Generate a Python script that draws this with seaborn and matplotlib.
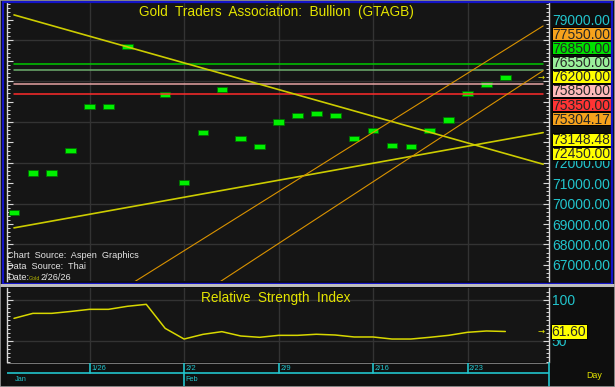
import numpy as np
import pandas as pd
import matplotlib
matplotlib.use("Agg")
import matplotlib.pyplot as plt
import seaborn as sns
from matplotlib.patches import Rectangle
from matplotlib.ticker import MultipleLocator, FixedLocator, FuncFormatter

# ---------------- data ----------------
sessions = pd.bdate_range("2026-01-20", "2026-02-27")
price = [69550, 71500, 71500, 72600, 74750, 74750, 77680, np.nan, 75350,
         71050, 73500, 75600, 73200, 72800, 74000, 74300, 74400, 74300,
         73200, 73600, 72850, 72800, 73600, 74100, 75400, 75850, 76200]
rsi = [77.6, 83.7, 83.7, 86.0, 88.6, 88.6, 92.3, 94.7, 65.4, 52.4, 58.1,
       61.4, 56.1, 54.5, 56.9, 56.9, 58.2, 57.3, 54.9, 54.9, 52.4, 52.4,
       54.5, 56.9, 60.6, 62.2, 61.6]
level_values = [76850, 76550, 75850, 75350]
level_colors = ["#00c800", "#6fae6f", "#e6a4a4", "#ff2a2a"]
trend_start = [79250, 68810, 62470, 59574]   # value at first session
trend_end = [71930, 73480, 78710, 76514]     # value at last session
trend_colors = ["#cccc00", "#cccc00", "#d99200", "#d99200"]
trend_widths = [1.2, 1.2, 0.8, 0.8]
tag_values = [77550.00, 76850.00, 76550.00, 76200.00, 75850.00, 75350.00,
              75304.17, 73148.48, 72450.00]
tag_colors = ["#f6a21c", "#00e000", "#9aef9a", "#ffff00", "#ffb9b9",
              "#ff3434", "#f6a21c", "#ffff00", "#ffff00"]
last_price = 76200.00
last_rsi = 61.60
week_labels = ["1/26", "2/2", "2/9", "2/16", "2/23"]
month_labels = ["Jan", "Feb"]

# ---------------- style ----------------
W, H = 615, 387
sns.set_theme(style="dark")
plt.rcParams["font.family"] = ["Liberation Sans", "DejaVu Sans"]

BG = "#151515"
GRID = "#333333"
AXC = "#d8d8d8"
CYAN = "#22c4cc"
YEL = "#e4e400"

fig = plt.figure(figsize=(W / 100, H / 100), dpi=100, facecolor="#0e0e0e")


def rect(l, t, r, b):
    return [l / W, 1 - b / H, (r - l) / W, (b - t) / H]


def fpt(x, y):
    return x / W, 1 - y / H


ax = fig.add_axes(rect(7, 3, 549, 281))
axr = fig.add_axes(rect(7, 288, 549, 362))
axd = fig.add_axes(rect(7, 363, 549, 386))

n = len(sessions)
mondays = [i for i, d in enumerate(sessions) if d.weekday() == 0]
month_starts = [0] + [i for i in range(1, n) if sessions[i].month != sessions[i - 1].month]
x0, x1 = -0.37, 28.31

# ---------------- main panel ----------------
ax.set_facecolor(BG)
ax.set_ylim(66206, 79833)
for m in mondays:
    ax.axvline(m, color=GRID, lw=1, zorder=0)
for g in np.arange(68000, 79001, 2000):
    ax.axhline(g, color=GRID, lw=1, zorder=0)

parr = np.array(price, float)
pidx = np.arange(len(parr))
bar_h = 250
ax.bar(pidx, bar_h, bottom=parr - bar_h / 2, width=0.56, color="#00f000",
       edgecolor="#007000", linewidth=0.6, zorder=3)

for v, c in zip(level_values, level_colors):
    ax.plot([0, n - 1], [v, v], color=c, lw=1.1, zorder=4)
for s, e, c, w in zip(trend_start, trend_end, trend_colors, trend_widths):
    ax.plot([0, n - 1], [s, e], color=c, lw=w, zorder=5)

ax.yaxis.set_major_locator(MultipleLocator(1000))
ax.yaxis.set_minor_locator(MultipleLocator(200))

# ---------------- RSI panel ----------------
axr.set_facecolor(BG)
for m in mondays:
    axr.axvline(m, color=GRID, lw=1, zorder=0)
for g in (50, 100):
    axr.axhline(g, color=GRID, lw=1, zorder=0)
rdf = pd.DataFrame({"pos": np.arange(len(rsi)), "rsi": rsi})
sns.lineplot(data=rdf, x="pos", y="rsi", ax=axr, color="#d8d800", lw=1.1, zorder=4)
axr.set_xlabel("")
axr.set_ylabel("")
axr.set_ylim(24.4, 114.6)
axr.yaxis.set_major_locator(FixedLocator([50, 100]))
axr.yaxis.set_minor_locator(MultipleLocator(5))
axr.yaxis.set_major_formatter(FuncFormatter(lambda v, p: f"{v:.0f}"))

for a in (ax, axr):
    a.set_xlim(x0, x1)
    a.set_xticks([])
    a.grid(False)
    for s in ("top", "bottom"):
        a.spines[s].set_visible(False)
    for s in ("left", "right"):
        a.spines[s].set_visible(True)
        a.spines[s].set_color(AXC)
        a.spines[s].set_linewidth(1)
    a.tick_params(axis="y", which="both", left=True, right=True, labelleft=False,
                  labelright=True, direction="in", colors=AXC, labelcolor=CYAN,
                  labelsize=10, pad=2)
    a.tick_params(axis="y", which="major", length=4, width=0.8)
    a.tick_params(axis="y", which="minor", length=2, width=0.7)

# ---------------- date axis ----------------
axd.set_facecolor("#101010")
axd.set_xlim(x0, x1)
axd.set_ylim(0, 1)
axd.set_xticks([])
axd.set_yticks([])
for s in axd.spines.values():
    s.set_visible(False)
axd.spines["right"].set_visible(True)
axd.spines["right"].set_color(CYAN)
axd.spines["right"].set_linewidth(1.2)
axd.axhline(1, color="#8a8a8a", lw=1.2)
mid = (386 - 372.7) / 23
axd.plot([x0, x1], [mid, mid], color=CYAN, lw=1.2)
for m, lab in zip(mondays, week_labels):
    full = m in month_starts
    axd.plot([m, m], [0 if full else mid, 1], color=CYAN, lw=1.2)
    axd.text(m + 0.08, mid + 0.03, lab, color=CYAN, fontsize=5.5, ha="left", va="bottom")
for m, lab in zip(month_starts, month_labels):
    axd.text(m + 0.06, 0.3, lab, color=CYAN, fontsize=5.3, ha="left", va="center")

# ---------------- price tags ----------------
def to_px(a, v):
    return H - a.transData.transform((0, v))[1]


ys = [to_px(ax, v) for v in tag_values]
order = list(np.argsort(ys))
gap = 14.2
groups = [[i] for i in order]


def place(g):
    c = np.mean([ys[i] for i in g])
    k = len(g)
    return [c + gap * (j - (k - 1) / 2) for j in range(k)]


changed = True
while changed:
    changed = False
    for j in range(len(groups) - 1):
        pa, pb = place(groups[j]), place(groups[j + 1])
        if pb[0] - pa[-1] < gap - 0.5:
            groups[j] = groups[j] + groups[j + 1]
            del groups[j + 1]
            changed = True
            break
tag_y = {}
for g in groups:
    for i, y in zip(g, place(g)):
        tag_y[i] = y


def price_fmt(v, p):
    yv = to_px(ax, v)
    if any(abs(yv - t) < 8.0 for t in tag_y.values()):
        return ""
    return f"{v:.2f}"


ax.yaxis.set_major_formatter(FuncFormatter(price_fmt))

for i, v in enumerate(tag_values):
    y = tag_y[i]
    fig.add_artist(Rectangle(fpt(551.5, y + 6.5), 59 / W, 13 / H, transform=fig.transFigure,
                             facecolor=tag_colors[i], edgecolor="#000000", lw=0.7, zorder=5))
    fig.text(*fpt(581, y + 0.8), f"{v:.2f}", ha="center", va="center", fontsize=10,
             color="#262626", zorder=6)

ylast = to_px(ax, last_price)
fig.text(*fpt(541.5, ylast), "→", color=YEL, fontsize=6, ha="center", va="center",
         family="DejaVu Sans", zorder=7)

yr = to_px(axr, last_rsi)
fig.add_artist(Rectangle(fpt(551, yr + 7.5), 36 / W, 15 / H, transform=fig.transFigure,
                         facecolor="#ffff00", edgecolor="#000000", lw=0.7, zorder=5))
fig.text(*fpt(569, yr + 0.8), f"{last_rsi:.2f}", ha="center", va="center", fontsize=10,
         color="#262626", zorder=6)
fig.text(*fpt(541.5, yr), "→", color=YEL, fontsize=6, ha="center", va="center",
         family="DejaVu Sans", zorder=7)

# ---------------- texts ----------------
fig.text(*fpt(276, 12), "Gold  Traders  Association:  Bullion  (GTAGB)", color=YEL,
         fontsize=9.8, ha="center", va="center", zorder=6)
fig.text(*fpt(276, 298), "Relative  Strength  Index", color=YEL,
         fontsize=9.8, ha="center", va="center", zorder=6)
fig.text(*fpt(7, 255), "Chart  Source:  Aspen  Graphics", color="#e6e6e6", fontsize=6.6,
         ha="left", va="center", zorder=6)
fig.text(*fpt(7, 266.5), "Data  Source:  Thai", color="#e6e6e6", fontsize=6.6,
         ha="left", va="center", zorder=6)
fig.text(*fpt(7, 277.5), "Date:", color="#e6e6e6", fontsize=6.6, ha="left", va="center", zorder=6)
fig.text(*fpt(29, 278), "Gold", color="#b8b800", fontsize=3.8, ha="left", va="center", zorder=6)
fig.text(*fpt(40, 277.5), "2/26/26", color="#e6e6e6", fontsize=6.6, ha="left", va="center", zorder=6)
fig.text(*fpt(594, 375), "Day", color=YEL, fontsize=6.4, ha="center", va="center", zorder=6)

# ---------------- frames ----------------
fig.add_artist(Rectangle(fpt(3, 283.5), 609 / W, 282 / H, transform=fig.transFigure,
                         fill=False, edgecolor="#1414c8", lw=1.6, zorder=8))
fig.add_artist(Rectangle(fpt(0, 287.2), 1, 3 / H, transform=fig.transFigure,
                         facecolor="#bdbdbd", edgecolor="none", zorder=8))
fig.add_artist(Rectangle((0, 0), 1, 1, transform=fig.transFigure, fill=False,
                         edgecolor="#9a9a9a", lw=1.2, zorder=9))

fig.savefig("out.png", dpi=100, facecolor=fig.get_facecolor())
